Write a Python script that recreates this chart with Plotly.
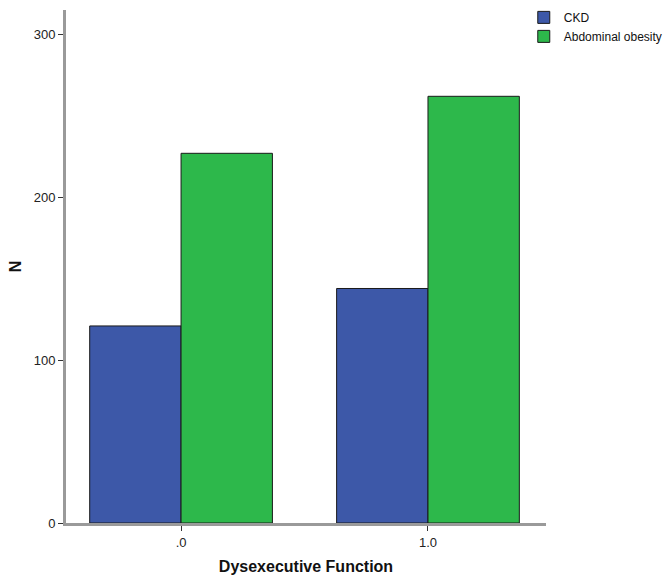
import plotly.graph_objects as go

categories = [".0", "1.0"]
ckd = [121, 144]
obesity = [227, 262]
y_ticks = [0, 100, 200, 300]

fig = go.Figure()
fig.add_trace(go.Bar(x=categories, y=ckd, name="CKD",
                     marker=dict(color="#3D58A8", line=dict(color="#1a1a1a", width=1))))
fig.add_trace(go.Bar(x=categories, y=obesity, name="Abdominal obesity",
                     marker=dict(color="#2DB84B", line=dict(color="#1a1a1a", width=1))))

fig.update_layout(
    width=663, height=575,
    margin=dict(l=66, r=117, t=10, b=52, autoexpand=False),
    paper_bgcolor="white", plot_bgcolor="white",
    barmode="group", bargap=0.26, bargroupgap=0,
    font=dict(family="Liberation Sans, Arial", size=13, color="#222"),
    legend=dict(xref="container", yref="container", x=0.79, y=0.995,
                xanchor="left", yanchor="top",
                bgcolor="rgba(0,0,0,0)", font=dict(size=12, color="#111"),
                tracegroupgap=0, itemwidth=30),
    showlegend=True,
    xaxis=dict(type="category", range=[-0.466, 1.478], automargin=False,
               showline=True, linecolor="#9a9a9a", linewidth=3,
               ticks="outside", ticklen=5, tickcolor="#333", tickwidth=1,
               showgrid=False, zeroline=False,
               title=dict(text="<b>Dysexecutive Function</b>", font=dict(size=16, color="#111"), standoff=18)),
    yaxis=dict(range=[0, 315], tickvals=y_ticks, automargin=False,
               showline=True, linecolor="#9a9a9a", linewidth=3,
               ticks="outside", ticklen=5, tickcolor="#333", tickwidth=1,
               showgrid=False, zeroline=False,
               title=dict(text="<b>N</b>", font=dict(size=16, color="#111"), standoff=9)),
)

fig.write_html("out.html", config={"displayModeBar": False},
               post_script="document.body.style.margin='0';")
